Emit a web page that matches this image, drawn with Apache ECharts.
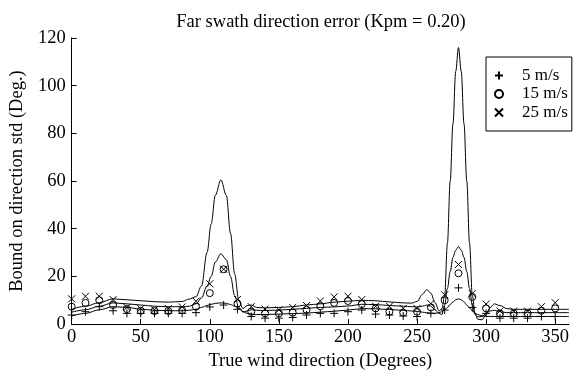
<!DOCTYPE html>
<html>
<head>
<meta charset="utf-8">
<script src="https://cdn.jsdelivr.net/npm/echarts@6/dist/echarts.min.js"></script>
<style>html,body{margin:0;padding:0;background:#fff}#c{width:579px;height:376px}</style>
</head>
<body>
<div id="c"></div>
<script>
// Marker samples (every 10 degrees)
const markerAngles = [0,10,20,30,40,50,60,70,80,90,100,110,120,130,140,150,160,170,180,190,200,210,220,230,240,250,260,270,280,290,300,310,320,330,340,350];
const markers5  = [3.8,5.2,7.3,5.6,4.5,4.5,4.5,4.5,4.5,4.8,7.2,8.0,6.2,3.2,2.5,2.5,2.8,3.8,4.5,4.5,5.2,5.9,4.2,3.8,3.4,3.2,4.5,5.9,15.2,7.0,4.5,2.5,2.5,2.5,3.2,3.2];
const markers15 = [7.3,8.9,10.0,8.0,6.3,5.6,5.5,5.5,5.8,7.3,13.0,23.0,8.6,5.2,4.5,4.5,4.8,6.0,7.5,8.9,9.7,8.4,6.6,5.2,4.8,5.2,7.0,10.0,21.3,11.4,6.6,4.5,4.5,4.5,5.6,6.6];
const markers25 = [10.6,11.7,11.7,10.3,7.0,6.5,6.0,6.5,7.2,9.6,16.9,23.0,10.3,7.3,6.3,6.0,7.0,7.8,9.7,11.4,11.7,10.3,7.5,7.5,6.6,6.6,8.6,12.3,25.0,12.8,8.4,5.5,5.5,5.5,7.3,9.0];

// Bound curves
const curveAngles = [0,10,20,30,40,50,60,70,80,85,90,94,98,101,104,108,112,115,118,121,124,127,130,134,140,150,160,170,180,190,200,210,220,230,240,246,250,254,257,260,263,266,268,270,272,274,276,278,280,282,284,286,288,290,292,294,297,300,303,306,310,315,320,330,340,350,360];
const curve5  = [3.4,4.5,6.0,7.3,7.0,6.3,5.8,5.6,5.6,5.8,6.2,7.0,7.8,8.3,8.7,8.9,8.7,8.2,7.5,6.5,5.3,4.5,4.2,4.0,4.0,4.2,4.4,4.6,5.0,5.4,5.9,6.5,6.4,6.1,5.8,5.5,5.3,5.0,4.8,4.6,4.5,4.8,5.2,6.0,7.0,8.2,9.3,10.2,10.6,10.2,9.3,8.0,6.8,5.6,4.6,4.0,3.5,3.3,3.2,3.2,3.2,3.2,3.2,3.2,3.2,3.2,3.2];
const curve15 = [5.0,6.0,7.5,8.9,8.5,8.0,7.5,7.3,7.3,7.5,8.5,11.0,16.0,20.0,26.0,29.5,27.0,20.0,12.0,7.0,5.0,5.5,6.0,5.8,5.7,5.9,6.2,6.6,7.0,7.2,7.6,8.3,8.2,7.8,7.5,7.3,7.2,7.5,8.0,7.5,6.0,4.5,4.0,8.0,15.0,22.0,28.0,31.0,32.5,31.0,28.0,22.0,15.0,8.0,4.0,3.0,3.2,4.5,5.5,5.8,5.2,4.8,4.8,4.8,4.8,4.8,4.8];
const curve25 = [6.2,7.5,9.0,10.6,10.2,9.8,9.4,9.2,9.5,10.5,11.5,16.0,30.0,42.0,54.0,60.5,54.0,38.0,21.0,10.0,6.5,7.8,8.0,7.0,6.8,7.0,7.3,8.0,8.5,9.2,9.6,10.0,9.8,9.3,8.9,8.8,9.5,12.5,14.5,13.0,9.0,5.5,6.5,12.0,34.0,60.0,84.0,106.0,116.0,106.0,84.0,60.0,34.0,12.0,4.5,2.0,1.8,4.0,7.0,8.5,7.8,6.5,6.2,6.2,6.2,6.2,6.2];

const seriesNames = ['5 m/s','15 m/s','25 m/s'];
const xTicks = {min:0, max:360, interval:50};
const yTicks = {min:0, max:120, interval:20};

const FONT = '"Liberation Serif","Times New Roman",serif';
const pair = (xs, ys) => xs.map((x,i)=>[x, ys[i]]);
const plusPath = 'path://M5 0L5 10M0 5L10 5';
const crossPath = 'path://M0 0L10 10M10 0L0 10';

const lineStyle = {color:'#000', width:1};
function curve(name, vals){
  return {name:name, type:'line', data:pair(curveAngles, vals), showSymbol:false, symbol:'none',
    smooth:0.35, smoothMonotone:'x', lineStyle:lineStyle, itemStyle:{color:'#000'}, silent:true, z:2};
}
function marks(name, vals, symbol, size){
  return {name:name, type:'scatter', data:pair(markerAngles, vals), symbol:symbol, symbolSize:size,
    itemStyle:{color:'transparent', borderColor:'#000', borderWidth:1, opacity:1}, z:3};
}

const chart = echarts.init(document.getElementById('c'));
chart.setOption({
  animation:false,
  backgroundColor:'#fff',
  title:{text:'Far swath direction error (Kpm = 0.20)', left:316, top:8, textAlign:'center',
    textStyle:{fontFamily:FONT, fontSize:18.5, fontWeight:'normal', color:'#000'}},
  grid:{left:63, right:10, top:38, bottom:46},
  legend:{data:seriesNames, orient:'vertical', left:486, top:57, padding:[10,4,10,8],
    itemGap:1.5, itemWidth:8, itemHeight:8, borderColor:'#000', borderWidth:1, backgroundColor:'#fff',
    selectedMode:false,
    textStyle:{fontFamily:FONT, fontSize:17, color:'#000', padding:[0,0,0,14]}},
  xAxis:{type:'value', min:xTicks.min, max:xTicks.max, interval:xTicks.interval,
    name:'True wind direction (Degrees)', nameLocation:'middle', nameGap:25,
    nameTextStyle:{fontFamily:FONT, fontSize:18.5, color:'#000'},
    axisLine:{show:true, onZero:false, lineStyle:{color:'#000', width:1}},
    axisTick:{show:true, inside:true, length:5, lineStyle:{color:'#000'}},
    axisLabel:{fontFamily:FONT, fontSize:18.5, color:'#000', margin:4, showMaxLabel:false},
    splitLine:{show:false}},
  yAxis:{type:'value', min:yTicks.min, max:yTicks.max, interval:yTicks.interval,
    name:'Bound on direction std (Deg.)', nameLocation:'middle', nameGap:36,
    nameTextStyle:{fontFamily:FONT, fontSize:18.5, color:'#000'},
    axisLine:{show:true, lineStyle:{color:'#000', width:1}},
    axisTick:{show:true, inside:true, length:5, lineStyle:{color:'#000'}},
    axisLabel:{fontFamily:FONT, fontSize:18.5, color:'#000', margin:6},
    splitLine:{show:false}},
  series:[
    curve('c5', curve5), curve('c15', curve15), curve('c25', curve25),
    marks(seriesNames[0], markers5, plusPath, 8),
    marks(seriesNames[1], markers15, 'circle', 7),
    marks(seriesNames[2], markers25, crossPath, 7)
  ]
});
</script>
</body>
</html>
